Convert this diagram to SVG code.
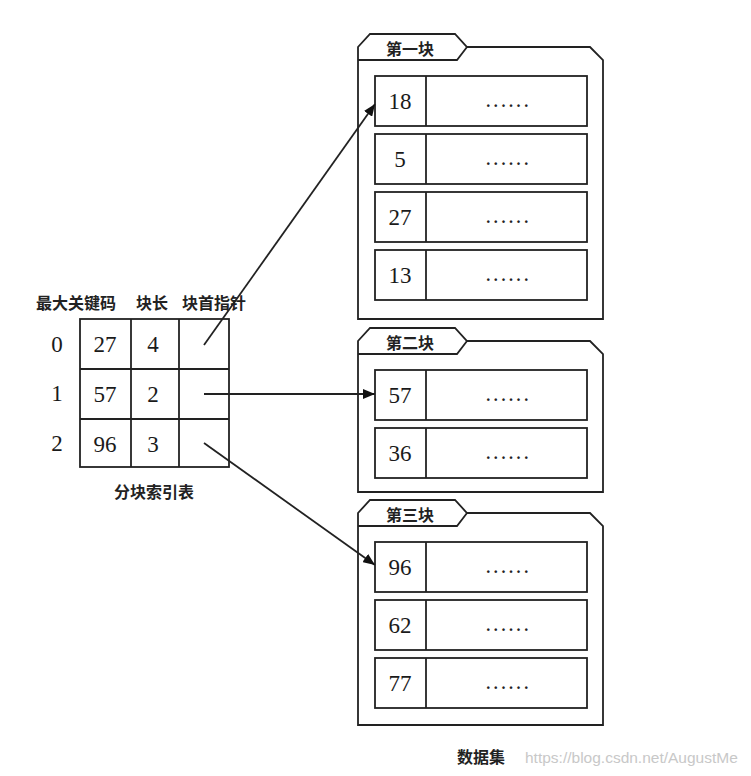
<svg xmlns="http://www.w3.org/2000/svg" width="751" height="776" viewBox="0 0 751 776">
  <style>
    .ln { fill: none; stroke: #222; stroke-width: 1.8; }
    .box { fill: #fff; stroke: #222; stroke-width: 1.8; }
    .num { font-family: "Liberation Serif", serif; font-size: 23px; fill: #1a1a1a; text-anchor: middle; }
    .cn { font-family: "Noto Sans CJK SC", sans-serif; font-size: 16px; font-weight: 600; fill: #222; }
    .dots { font-family: "Liberation Serif", serif; font-size: 16px; font-weight: bold; fill: #222; text-anchor: middle; letter-spacing: 3.6px; }
    .mark { font-family: "Liberation Sans", sans-serif; font-size: 15.5px; fill: #c8c8c8; }
  </style>
  <defs>
    <marker id="arrow" viewBox="0 0 12 10" refX="12" refY="5" markerWidth="12" markerHeight="10" markerUnits="userSpaceOnUse" orient="auto">
      <path d="M0,0 L12,5 L0,10 Z" fill="#111"/>
    </marker>
    <!-- one data row: key cell + payload cell -->
    <g id="row">
      <rect class="box" x="0" y="0" width="212" height="50"/>
      <line class="ln" x1="51" y1="0" x2="51" y2="50"/>
      <text class="dots" x="134" y="31">......</text>
    </g>
  </defs>

  <rect width="751" height="776" fill="#fff"/>

  <!-- index table -->
  <g id="index-table">
    <text class="cn" x="36" y="309">最大关键码</text>
    <text class="cn" x="136" y="309">块长</text>
    <text class="cn" x="182" y="309">块首指针</text>
    <rect class="box" x="80" y="319" width="149" height="148"/>
    <line class="ln" x1="131" y1="319" x2="131" y2="467"/>
    <line class="ln" x1="179" y1="319" x2="179" y2="467"/>
    <line class="ln" x1="80" y1="369" x2="229" y2="369"/>
    <line class="ln" x1="80" y1="419" x2="229" y2="419"/>
    <text class="num" x="57" y="352" font-size="21">0</text>
    <text class="num" x="57" y="401" font-size="21">1</text>
    <text class="num" x="57" y="451" font-size="21">2</text>
    <text class="num" x="105" y="352">27</text>
    <text class="num" x="105" y="402">57</text>
    <text class="num" x="105" y="452">96</text>
    <text class="num" x="153" y="352">4</text>
    <text class="num" x="153" y="402">2</text>
    <text class="num" x="153" y="452">3</text>
    <text class="cn" x="154" y="498" text-anchor="middle" font-size="17">分块索引表</text>
  </g>

  <!-- block 1 -->
  <g id="block-1">
    <path class="ln" d="M358,319 L358,47 L370,34 L455,34 L467,47 L590,47 L603,60 L603,319 Z"/>
    <path class="ln" d="M358,60 L457,60 L467,47"/>
    <text class="cn" x="410" y="55" text-anchor="middle">第一块</text>
    <use href="#row" x="375" y="76"/>
    <use href="#row" x="375" y="134"/>
    <use href="#row" x="375" y="192"/>
    <use href="#row" x="375" y="250"/>
    <text class="num" x="400" y="109">18</text>
    <text class="num" x="400" y="167">5</text>
    <text class="num" x="400" y="225">27</text>
    <text class="num" x="400" y="283">13</text>
  </g>

  <!-- block 2 -->
  <g id="block-2">
    <path class="ln" d="M358,492 L358,341 L370,328 L455,328 L467,341 L590,341 L603,354 L603,492 Z"/>
    <path class="ln" d="M358,354 L457,354 L467,341"/>
    <text class="cn" x="410" y="349" text-anchor="middle">第二块</text>
    <use href="#row" x="375" y="370"/>
    <use href="#row" x="375" y="428"/>
    <text class="num" x="400" y="403">57</text>
    <text class="num" x="400" y="461">36</text>
  </g>

  <!-- block 3 -->
  <g id="block-3">
    <path class="ln" d="M358,725 L358,513 L370,500 L455,500 L467,513 L590,513 L603,526 L603,725 Z"/>
    <path class="ln" d="M358,526 L457,526 L467,513"/>
    <text class="cn" x="410" y="521" text-anchor="middle">第三块</text>
    <use href="#row" x="375" y="542"/>
    <use href="#row" x="375" y="600"/>
    <use href="#row" x="375" y="658"/>
    <text class="num" x="400" y="575">96</text>
    <text class="num" x="400" y="633">62</text>
    <text class="num" x="400" y="691">77</text>
  </g>

  <!-- pointers from the index table to block heads -->
  <g id="connectors">
    <line class="ln" x1="204" y1="345" x2="375" y2="104" marker-end="url(#arrow)"/>
    <line class="ln" x1="204" y1="394" x2="375" y2="394" marker-end="url(#arrow)"/>
    <line class="ln" x1="204" y1="443" x2="375" y2="565" marker-end="url(#arrow)"/>
  </g>

  <text class="cn" x="481" y="763" text-anchor="middle" font-size="17">数据集</text>
  <text class="mark" x="525" y="763">https://blog.csdn.net/AugustMe</text>
</svg>
